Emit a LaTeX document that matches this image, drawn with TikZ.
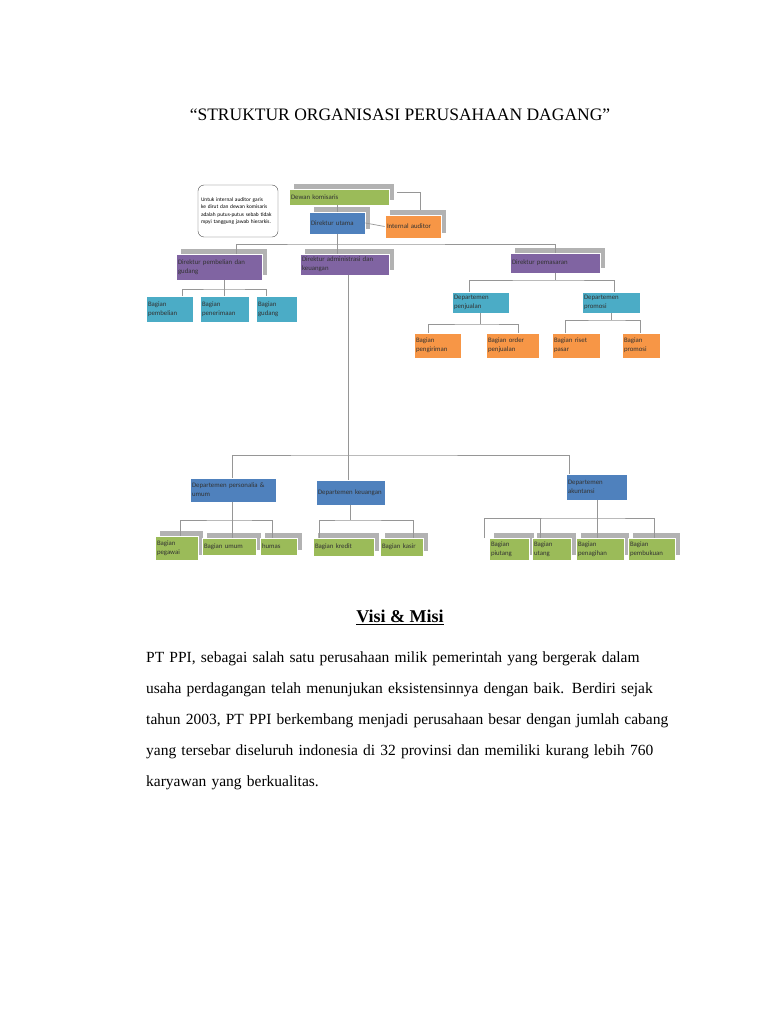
\documentclass[tikz,border=0pt]{standalone}
\usepackage{fontspec}
\setmainfont{Liberation Serif}
\newfontfamily\boxfont{Carlito}
\usetikzlibrary{shadows}
\definecolor{cgreen}{RGB}{155,187,89}
\definecolor{cblue}{RGB}{79,129,189}
\definecolor{corange}{RGB}{247,150,70}
\definecolor{cpurple}{RGB}{128,100,162}
\definecolor{ccyan}{RGB}{75,172,198}
\definecolor{cline}{RGB}{150,150,150}
\hyphenpenalty=10000
\exhyphenpenalty=10000
\tikzset{
  unit/.style={rectangle, draw=white, line width=0.8pt, inner sep=2pt, align=left,
    font=\boxfont\fontsize{6.8}{9}\selectfont, text=black!80},
  shade/.style={drop shadow={shadow xshift=5pt, shadow yshift=5pt, fill=gray!60, opacity=1}},
  link/.style={draw=cline, line width=0.7pt}
}
\newcommand{\unitbox}[7]{% name, x1, y1, x2, y2, fill, text
  \node (#1) [unit, fill=#6, minimum width={#4-#2}, minimum height={#5-#3},
    text width={#4-#2-4}] at ({(#2+#4)/2},{(#3+#5)/2}) {#7};}

\begin{document}
\begin{tikzpicture}[x=1pt,y=-1pt]
\useasboundingbox (0,0) rectangle (768,1024);
\fill[white] (0,0) rectangle (768,1024);

\node (title) at (400,115) {\fontsize{17.5}{20}\selectfont “STRUKTUR ORGANISASI PERUSAHAAN DAGANG”};

% top level
\node (note) [draw=black!70, rounded corners=6pt, minimum width=80, minimum height=52, text width=74,
  align=left, inner sep=2pt, font=\boxfont\fontsize{5.4}{7.2}\selectfont] at (238,211)
  {Untuk internal auditor garis ke dirut dan dewan komisaris adalah putus-putus sebab tidak mpyi tanggung jawab hierarkis.};
\begin{scope}[every node/.append style={shade}]
\unitbox{dewan}{289}{189}{389}{205}{cgreen}{\centering Dewan komisaris}
\unitbox{dutama}{309}{212}{365}{234}{cblue}{Direktur utama}
\unitbox{audit}{385}{215}{441}{238}{corange}{Internal auditor}
\unitbox{dbeli}{176}{254}{262}{280}{cpurple}{Direktur pembelian dan gudang}
\unitbox{dadm}{300}{254}{389}{275}{cpurple}{Direktur administrasi dan keuangan}
\unitbox{dpasar}{510}{253}{600}{273}{cpurple}{Direktur pemasaran}
\end{scope}

\draw[link] (337,205) -- (337,212);
\draw[link] (397,192) -| (420,210);
\draw[link] (dutama.east) -- (audit.west);
\draw[link] (337,234) -- (337,254);
\draw[link] (236,254) |- (337,244) -| (555,253);

% pembelian dan gudang
\unitbox{bbeli}{146}{296}{193}{322}{ccyan}{Bagian pembelian}
\unitbox{bterima}{200}{296}{249}{322}{ccyan}{Bagian penerimaan}
\unitbox{bgudang}{256}{296}{297}{322}{ccyan}{Bagian gudang}
\draw[link] (224,280) -- (224,296);
\draw[link] (182,296) |- (224,289) -| (266,296);

% pemasaran
\unitbox{djual}{452}{292}{509}{313}{ccyan}{Departemen penjualan}
\unitbox{dpromo}{582}{292}{640}{313}{ccyan}{Departemen promosi}
\draw[link] (dpasar.south) -- (555,280);
\draw[link] (469,292) |- (555,280) -| (614,292);
\unitbox{bkirim}{414}{333}{461}{358}{corange}{Bagian pengiriman}
\unitbox{border}{486}{333}{539}{358}{corange}{Bagian order penjualan}
\unitbox{briset}{552}{333}{600}{358}{corange}{Bagian riset pasar}
\unitbox{bpromo}{622}{333}{660}{358}{corange}{Bagian promosi}
\draw[link] (480,313) -- (480,324);
\draw[link] (428,333) |- (480,324) -| (518,333);
\draw[link] (611,313) -- (611,320);
\draw[link] (565,333) |- (611,320) -| (640,333);

% administrasi dan keuangan
\unitbox{dperson}{190}{478}{276}{502}{cblue}{Departemen personalia \& \ umum}
\unitbox{dkeu}{316}{480}{385}{505}{cblue}{Departemen keuangan}
\unitbox{dakun}{566}{474}{627}{500}{cblue}{Departemen akuntansi}
\draw[link] (348,275) -- (348,455);
\draw[link] (232,478) |- (348,455) -| (569,474);
\draw[link] (348,455) -- (348,480);

\begin{scope}[every node/.append style={shade}]
\unitbox{bpeg}{155}{536}{198}{560}{cgreen}{Bagian pegawai}
\unitbox{bumum}{202}{538}{256}{555}{cgreen}{Bagian umum}
\unitbox{bhumas}{260}{538}{297}{555}{cgreen}{humas}
\unitbox{bkredit}{313}{538}{374}{556}{cgreen}{Bagian kredit}
\unitbox{bkasir}{380}{538}{423}{556}{cgreen}{Bagian kasir}
\unitbox{bpiut}{489}{538}{529}{560}{cgreen}{Bagian piutang}
\unitbox{butang}{532}{538}{571}{560}{cgreen}{Bagian utang}
\unitbox{btagih}{576}{538}{624}{560}{cgreen}{Bagian penagihan}
\unitbox{bbuku}{628}{538}{675}{560}{cgreen}{Bagian pembukuan}
\end{scope}
\draw[link] (232,502) -- (232,520);
\draw[link] (180,536) |- (232,520) -| (272,538);
\draw[link] (232,520) -- (232,538);
\draw[link] (350,505) -- (350,520);
\draw[link] (319,538) |- (350,520) -| (413,538);
\draw[link] (597,500) -- (597,518);
\draw[link] (484,538) |- (597,518) -| (654,538);
\draw[link] (540,518) -- (540,538);
\draw[link] (597,518) -- (597,538);

% visi & misi
\node (visi) at (400,617) {\fontsize{18}{20}\selectfont\bfseries\underline{Visi \& Misi}};
\node (misi) [anchor=north west, inner sep=0, align=left, text width=560,
  font=\fontsize{15.5}{31}\selectfont] at (146,652)
  {PT PPI, sebagai salah satu perusahaan milik pemerintah yang bergerak dalam\\
   usaha perdagangan telah menunjukan eksistensinnya dengan baik. Berdiri sejak\\
   tahun 2003, PT PPI berkembang menjadi perusahaan besar dengan jumlah cabang\\
   yang tersebar diseluruh indonesia di 32 provinsi dan memiliki kurang lebih 760\\
   karyawan yang berkualitas.};
\end{tikzpicture}
\end{document}
